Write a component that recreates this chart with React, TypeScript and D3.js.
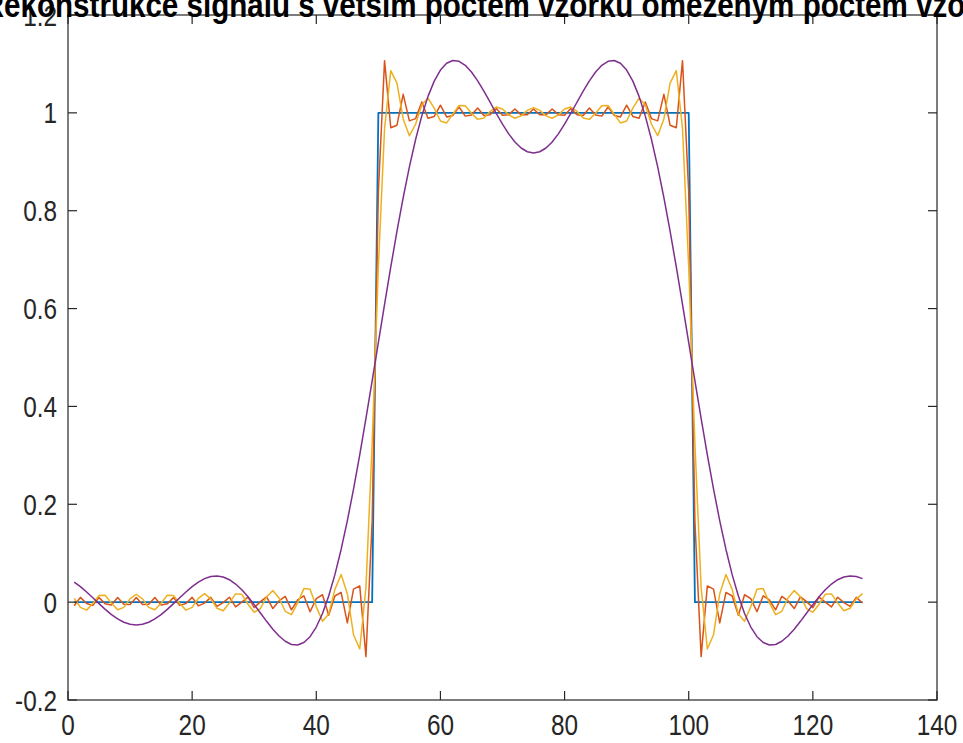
import React from 'react';
import * as d3 from 'd3';

const WIDTH = 963;
const HEIGHT = 743;

const titleText = 'Rekonstrukce signálu s větším počtem vzorků omezeným počtem vzorků';

const xTicks = [0, 20, 40, 60, 80, 100, 120, 140];
const yTicks = [-0.2, 0, 0.2, 0.4, 0.6, 0.8, 1, 1.2];
const yTickLabels = ['-0.2', '0', '0.2', '0.4', '0.6', '0.8', '1', '1.2'];

// original rectangular pulse, samples 1..128
const original = [
  0, 0, 0, 0, 0, 0, 0, 0, 0, 0,
  0, 0, 0, 0, 0, 0, 0, 0, 0, 0,
  0, 0, 0, 0, 0, 0, 0, 0, 0, 0,
  0, 0, 0, 0, 0, 0, 0, 0, 0, 0,
  0, 0, 0, 0, 0, 0, 0, 0, 0, 1,
  1, 1, 1, 1, 1, 1, 1, 1, 1, 1,
  1, 1, 1, 1, 1, 1, 1, 1, 1, 1,
  1, 1, 1, 1, 1, 1, 1, 1, 1, 1,
  1, 1, 1, 1, 1, 1, 1, 1, 1, 1,
  1, 1, 1, 1, 1, 1, 1, 1, 1, 1,
  0, 0, 0, 0, 0, 0, 0, 0, 0, 0,
  0, 0, 0, 0, 0, 0, 0, 0, 0, 0,
  0, 0, 0, 0, 0, 0, 0, 0,
];

// reconstruction from many spectral coefficients
const reconHigh = [
  -0.0075, 0.0097, -0.0027, -0.0066, 0.0096, -0.0035, -0.0058, 0.0095, -0.0043, -0.0050,
  0.0095, -0.0050, -0.0043, 0.0095, -0.0058, -0.0035, 0.0096, -0.0066, -0.0027, 0.0097,
  -0.0075, -0.0019, 0.0098, -0.0086, -0.0010, 0.0101, -0.0098, -0.0001, 0.0104, -0.0112,
  0.0011, 0.0109, -0.0131, 0.0025, 0.0117, -0.0157, 0.0044, 0.0130, -0.0197, 0.0073,
  0.0151, -0.0266, 0.0126, 0.0198, -0.0424, 0.0267, 0.0332, -0.1113, 0.1648, 0.8374,
  1.1067, 0.9696, 0.9748, 1.0379, 0.9837, 0.9882, 1.0223, 0.9889, 0.9927, 1.0156,
  0.9916, 0.9948, 1.0120, 0.9933, 0.9958, 1.0099, 0.9945, 0.9962, 1.0087, 0.9953,
  0.9963, 1.0080, 0.9959, 0.9962, 1.0078, 0.9962, 0.9959, 1.0080, 0.9963, 0.9953,
  1.0087, 0.9962, 0.9945, 1.0099, 0.9958, 0.9933, 1.0120, 0.9948, 0.9916, 1.0156,
  0.9927, 0.9889, 1.0223, 0.9882, 0.9837, 1.0379, 0.9748, 0.9696, 1.1067, 0.8374,
  0.1648, -0.1113, 0.0332, 0.0267, -0.0424, 0.0198, 0.0126, -0.0266, 0.0151, 0.0073,
  -0.0197, 0.0130, 0.0044, -0.0157, 0.0117, 0.0025, -0.0131, 0.0109, 0.0011, -0.0112,
  0.0104, -0.0001, -0.0098, 0.0101, -0.0010, -0.0086, 0.0098, -0.0019,
];

// reconstruction from a medium number of coefficients
const reconMid = [
  0.0078, -0.0107, -0.0163, -0.0028, 0.0137, 0.0140, -0.0021, -0.0155, -0.0107, 0.0066,
  0.0161, 0.0066, -0.0107, -0.0155, -0.0021, 0.0140, 0.0137, -0.0028, -0.0163, -0.0107,
  0.0078, 0.0175, 0.0066, -0.0125, -0.0175, -0.0016, 0.0169, 0.0160, -0.0043, -0.0207,
  -0.0131, 0.0110, 0.0236, 0.0084, -0.0187, -0.0256, -0.0015, 0.0277, 0.0262, -0.0091,
  -0.0390, -0.0244, 0.0261, 0.0566, 0.0173, -0.0666, -0.0958, 0.0302, 0.3236, 0.6846,
  0.9681, 1.0863, 1.0608, 0.9876, 0.9533, 0.9767, 1.0167, 1.0300, 1.0097, 0.9834,
  0.9794, 0.9973, 1.0150, 1.0145, 0.9991, 0.9867, 0.9895, 1.0029, 1.0119, 1.0078,
  0.9959, 0.9890, 0.9939, 1.0050, 1.0107, 1.0050, 0.9939, 0.9890, 0.9959, 1.0078,
  1.0119, 1.0029, 0.9895, 0.9867, 0.9991, 1.0145, 1.0150, 0.9973, 0.9794, 0.9834,
  1.0097, 1.0300, 1.0167, 0.9767, 0.9533, 0.9876, 1.0608, 1.0863, 0.9681, 0.6846,
  0.3236, 0.0302, -0.0958, -0.0666, 0.0173, 0.0566, 0.0261, -0.0244, -0.0390, -0.0091,
  0.0262, 0.0277, -0.0015, -0.0256, -0.0187, 0.0084, 0.0236, 0.0110, -0.0131, -0.0207,
  -0.0043, 0.0160, 0.0169, -0.0016, -0.0175, -0.0125, 0.0066, 0.0175,
];

// reconstruction from only a few coefficients
const reconLow = [
  0.0410, 0.0317, 0.0208, 0.0090, -0.0031, -0.0148, -0.0254, -0.0343, -0.0411, -0.0452,
  -0.0467, -0.0452, -0.0411, -0.0343, -0.0254, -0.0148, -0.0031, 0.0090, 0.0208, 0.0317,
  0.0410, 0.0481, 0.0524, 0.0536, 0.0514, 0.0458, 0.0370, 0.0252, 0.0110, -0.0051,
  -0.0221, -0.0392, -0.0553, -0.0693, -0.0800, -0.0865, -0.0877, -0.0826, -0.0706, -0.0509,
  -0.0233, 0.0124, 0.0562, 0.1077, 0.1662, 0.2311, 0.3012, 0.3754, 0.4524, 0.5306,
  0.6086, 0.6850, 0.7581, 0.8267, 0.8895, 0.9455, 0.9938, 1.0337, 1.0649, 1.0874,
  1.1014, 1.1071, 1.1054, 1.0972, 1.0834, 1.0653, 1.0443, 1.0217, 0.9987, 0.9768,
  0.9571, 0.9406, 0.9282, 0.9205, 0.9178, 0.9205, 0.9282, 0.9406, 0.9571, 0.9768,
  0.9987, 1.0217, 1.0443, 1.0653, 1.0834, 1.0972, 1.1054, 1.1071, 1.1014, 1.0874,
  1.0649, 1.0337, 0.9938, 0.9455, 0.8895, 0.8267, 0.7581, 0.6850, 0.6086, 0.5306,
  0.4524, 0.3754, 0.3012, 0.2311, 0.1662, 0.1077, 0.0562, 0.0124, -0.0233, -0.0509,
  -0.0706, -0.0826, -0.0877, -0.0865, -0.0800, -0.0693, -0.0553, -0.0392, -0.0221, -0.0051,
  0.0110, 0.0252, 0.0370, 0.0458, 0.0514, 0.0536, 0.0524, 0.0481,
];

const series = [
  { name: 'original', values: original, color: '#0072BD', width: 1.8 },
  { name: 'high', values: reconHigh, color: '#D95319', width: 1.5 },
  { name: 'mid', values: reconMid, color: '#EDB120', width: 1.5 },
  { name: 'low', values: reconLow, color: '#7E2F8E', width: 1.5 },
];

const PLOT = { left: 68, right: 937, top: 15, bottom: 700 };
const AXIS_COLOR = '#262626';
const FONT = "'Liberation Sans', Arial, Helvetica, sans-serif";
const TICK_FONT_SIZE = 29;
const TITLE_FONT_SIZE = 35;
const TICK_SQUEEZE = 0.84;
const TITLE_SQUEEZE = 0.845;
const TICK_LEN = 9;

function Squeezed({ x, y, anchor, size, weight, squeeze, color, children }) {
  return (
    <text
      transform={`translate(${x},${y}) scale(${squeeze},1)`}
      textAnchor={anchor}
      fontFamily={FONT}
      fontSize={size}
      fontWeight={weight || 'normal'}
      fill={color || AXIS_COLOR}
    >
      {children}
    </text>
  );
}

export default function App() {
  const x = d3.scaleLinear().domain([0, 140]).range([PLOT.left, PLOT.right]);
  const y = d3.scaleLinear().domain([-0.2, 1.2]).range([PLOT.bottom, PLOT.top]);

  const line = d3
    .line<number>()
    .x((_, i) => x(i + 1))
    .y((d) => y(d));

  return (
    <svg
      width={WIDTH}
      height={HEIGHT}
      style={{ position: 'absolute', left: 0, top: 0, background: '#ffffff' }}
    >
      <rect x={0} y={0} width={WIDTH} height={HEIGHT} fill="#ffffff" />

      {series.map((s) => (
        <path
          key={s.name}
          d={line(s.values) || ''}
          fill="none"
          stroke={s.color}
          strokeWidth={s.width}
          strokeLinejoin="round"
        />
      ))}

      {/* axes box */}
      <rect
        x={PLOT.left}
        y={PLOT.top}
        width={PLOT.right - PLOT.left}
        height={PLOT.bottom - PLOT.top}
        fill="none"
        stroke={AXIS_COLOR}
        strokeWidth={1.2}
      />

      {xTicks.map((t) => (
        <g key={`xt${t}`}>
          <line x1={x(t)} x2={x(t)} y1={PLOT.bottom} y2={PLOT.bottom - TICK_LEN} stroke={AXIS_COLOR} strokeWidth={1.2} />
          <line x1={x(t)} x2={x(t)} y1={PLOT.top} y2={PLOT.top + TICK_LEN} stroke={AXIS_COLOR} strokeWidth={1.2} />
          <Squeezed x={x(t)} y={735} anchor="middle" size={TICK_FONT_SIZE} squeeze={TICK_SQUEEZE}>
            {String(t)}
          </Squeezed>
        </g>
      ))}

      {yTicks.map((t, i) => (
        <g key={`yt${i}`}>
          <line x1={PLOT.left} x2={PLOT.left + TICK_LEN} y1={y(t)} y2={y(t)} stroke={AXIS_COLOR} strokeWidth={1.2} />
          <line x1={PLOT.right} x2={PLOT.right - TICK_LEN} y1={y(t)} y2={y(t)} stroke={AXIS_COLOR} strokeWidth={1.2} />
          <Squeezed x={PLOT.left - 11} y={y(t) + 10.5} anchor="end" size={TICK_FONT_SIZE} squeeze={TICK_SQUEEZE}>
            {yTickLabels[i]}
          </Squeezed>
        </g>
      ))}

      <Squeezed
        x={497}
        y={16.5}
        anchor="middle"
        size={TITLE_FONT_SIZE}
        weight="bold"
        squeeze={TITLE_SQUEEZE}
        color="#000000"
      >
        {titleText}
      </Squeezed>
    </svg>
  );
}
